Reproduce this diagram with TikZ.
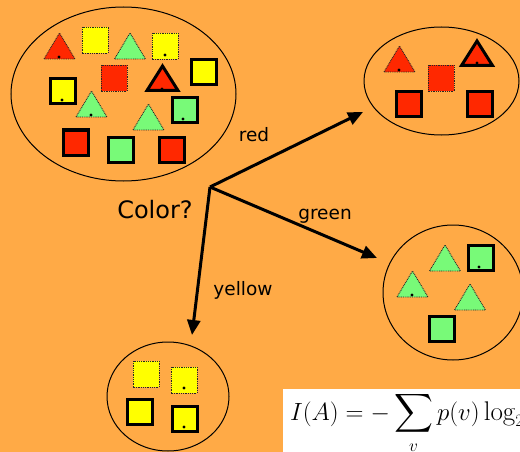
\documentclass[tikz,border=0pt]{standalone}
\usepackage{amsmath,amssymb}
\usepackage{fontspec}
\setsansfont{DejaVu Sans}
\usepackage{tikz}
\usetikzlibrary{arrows.meta,shapes.geometric}

\definecolor{bgorange}{RGB}{255,170,70}
\definecolor{shred}{RGB}{255,40,0}
\definecolor{shyellow}{RGB}{255,255,0}
\definecolor{shgreen}{RGB}{120,250,120}

\begin{document}
\begin{tikzpicture}[x=1pt, y=-1pt, >={Triangle[length=15pt,width=13pt]},
	bag/.style={draw=black, line width=1pt, ellipse, inner sep=0pt},
	thickshape/.style={draw=black, line width=3pt},
	dotshape/.style={draw=black!85, line width=0.9pt, dash pattern=on 0.9pt off 0.9pt},
	branchtext/.style={font=\sffamily\fontsize{18.5}{20}\selectfont, anchor=base}]
	\useasboundingbox (0,0) rectangle (520,452);
	\clip (0,0) rectangle (520,452);
	\fill[bgorange] (0,0) rectangle (520,452);
	\node[bag, minimum width=225, minimum height=174] (allbag) at (123.5,94) {};
	\node[bag, minimum width=155, minimum height=108] (redbag) at (441.5,81) {};
	\node[bag, minimum width=140, minimum height=135] (greenbag) at (453,292.5) {};
	\node[bag, minimum width=122, minimum height=109] (yellowbag) at (168,396.5) {};
	% squares with thick border
	\foreach \cx/\cy/\col in {204/72/shyellow, 63/91/shyellow, 185/110/shgreen, 120.5/149.5/shgreen, 75.5/142.5/shred, 172/149.5/shred,
		409/104.5/shred, 480/104.5/shred, 480.5/258/shgreen, 442/329/shgreen, 140/412/shyellow, 185/419/shyellow}
		\filldraw[thickshape, fill=\col] (\cx-12.5,\cy-12.5) rectangle ++(25,25);
	% squares with dotted border
	\foreach \cx/\cy/\col in {95/40/shyellow, 165/46/shyellow, 114/78/shred, 441/78.5/shred, 146/374/shyellow, 184/380/shyellow}
		\filldraw[dotshape, fill=\col] (\cx-13,\cy-13) rectangle ++(26,26);
	% triangles with dotted border
	\foreach \cx/\by/\col in {59.5/59/shred, 130/59/shgreen, 91.5/117/shgreen, 148.5/130/shgreen, 399.5/72/shred,
		445/271/shgreen, 412.5/297/shgreen, 470/310/shgreen}
		\filldraw[dotshape, fill=\col] (\cx-15.5,\by) -- (\cx,\by-26) -- (\cx+15.5,\by) -- cycle;
	% triangles with thick border
	\foreach \cx/\by in {162.5/90.5, 477/65.5}
		\filldraw[thickshape, fill=shred] (\cx-15.5,\by) -- (\cx,\by-24.5) -- (\cx+15.5,\by) -- cycle;
	\foreach \p in {(59,57), (165,55), (162,89), (62,100), (91,115), (183,119), (399,70), (477,63), (479,267), (412,295), (184,388), (184,427)}
		\fill \p circle (1.7pt);
	\coordinate (split) at (210,187);
	\coordinate (tored) at (363,112);
	\coordinate (togreen) at (377,258);
	\coordinate (toyellow) at (192,335);
	\draw[->, line width=3pt] (split) -- (tored);
	\draw[->, line width=3pt] (split) -- (togreen);
	\draw[->, line width=3pt] (split) -- (toyellow);
	\node[font=\sffamily\fontsize{24}{26}\selectfont, anchor=base] (question) at (155,218) {Color?};
	\node[branchtext] (redlabel) at (254,142) {red};
	\node[branchtext] (greenlabel) at (325,219) {green};
	\node[branchtext] (yellowlabel) at (243,295) {yellow};
	\fill[white] (283,389) rectangle (520,452);
	\node[anchor=base west, inner sep=0pt, font=\fontsize{27}{30}\selectfont] (entropy) at (290,420)
		{$\displaystyle I(A) = -\sum_v p(v)\log_2 p(v)$};
\end{tikzpicture}
\end{document}
